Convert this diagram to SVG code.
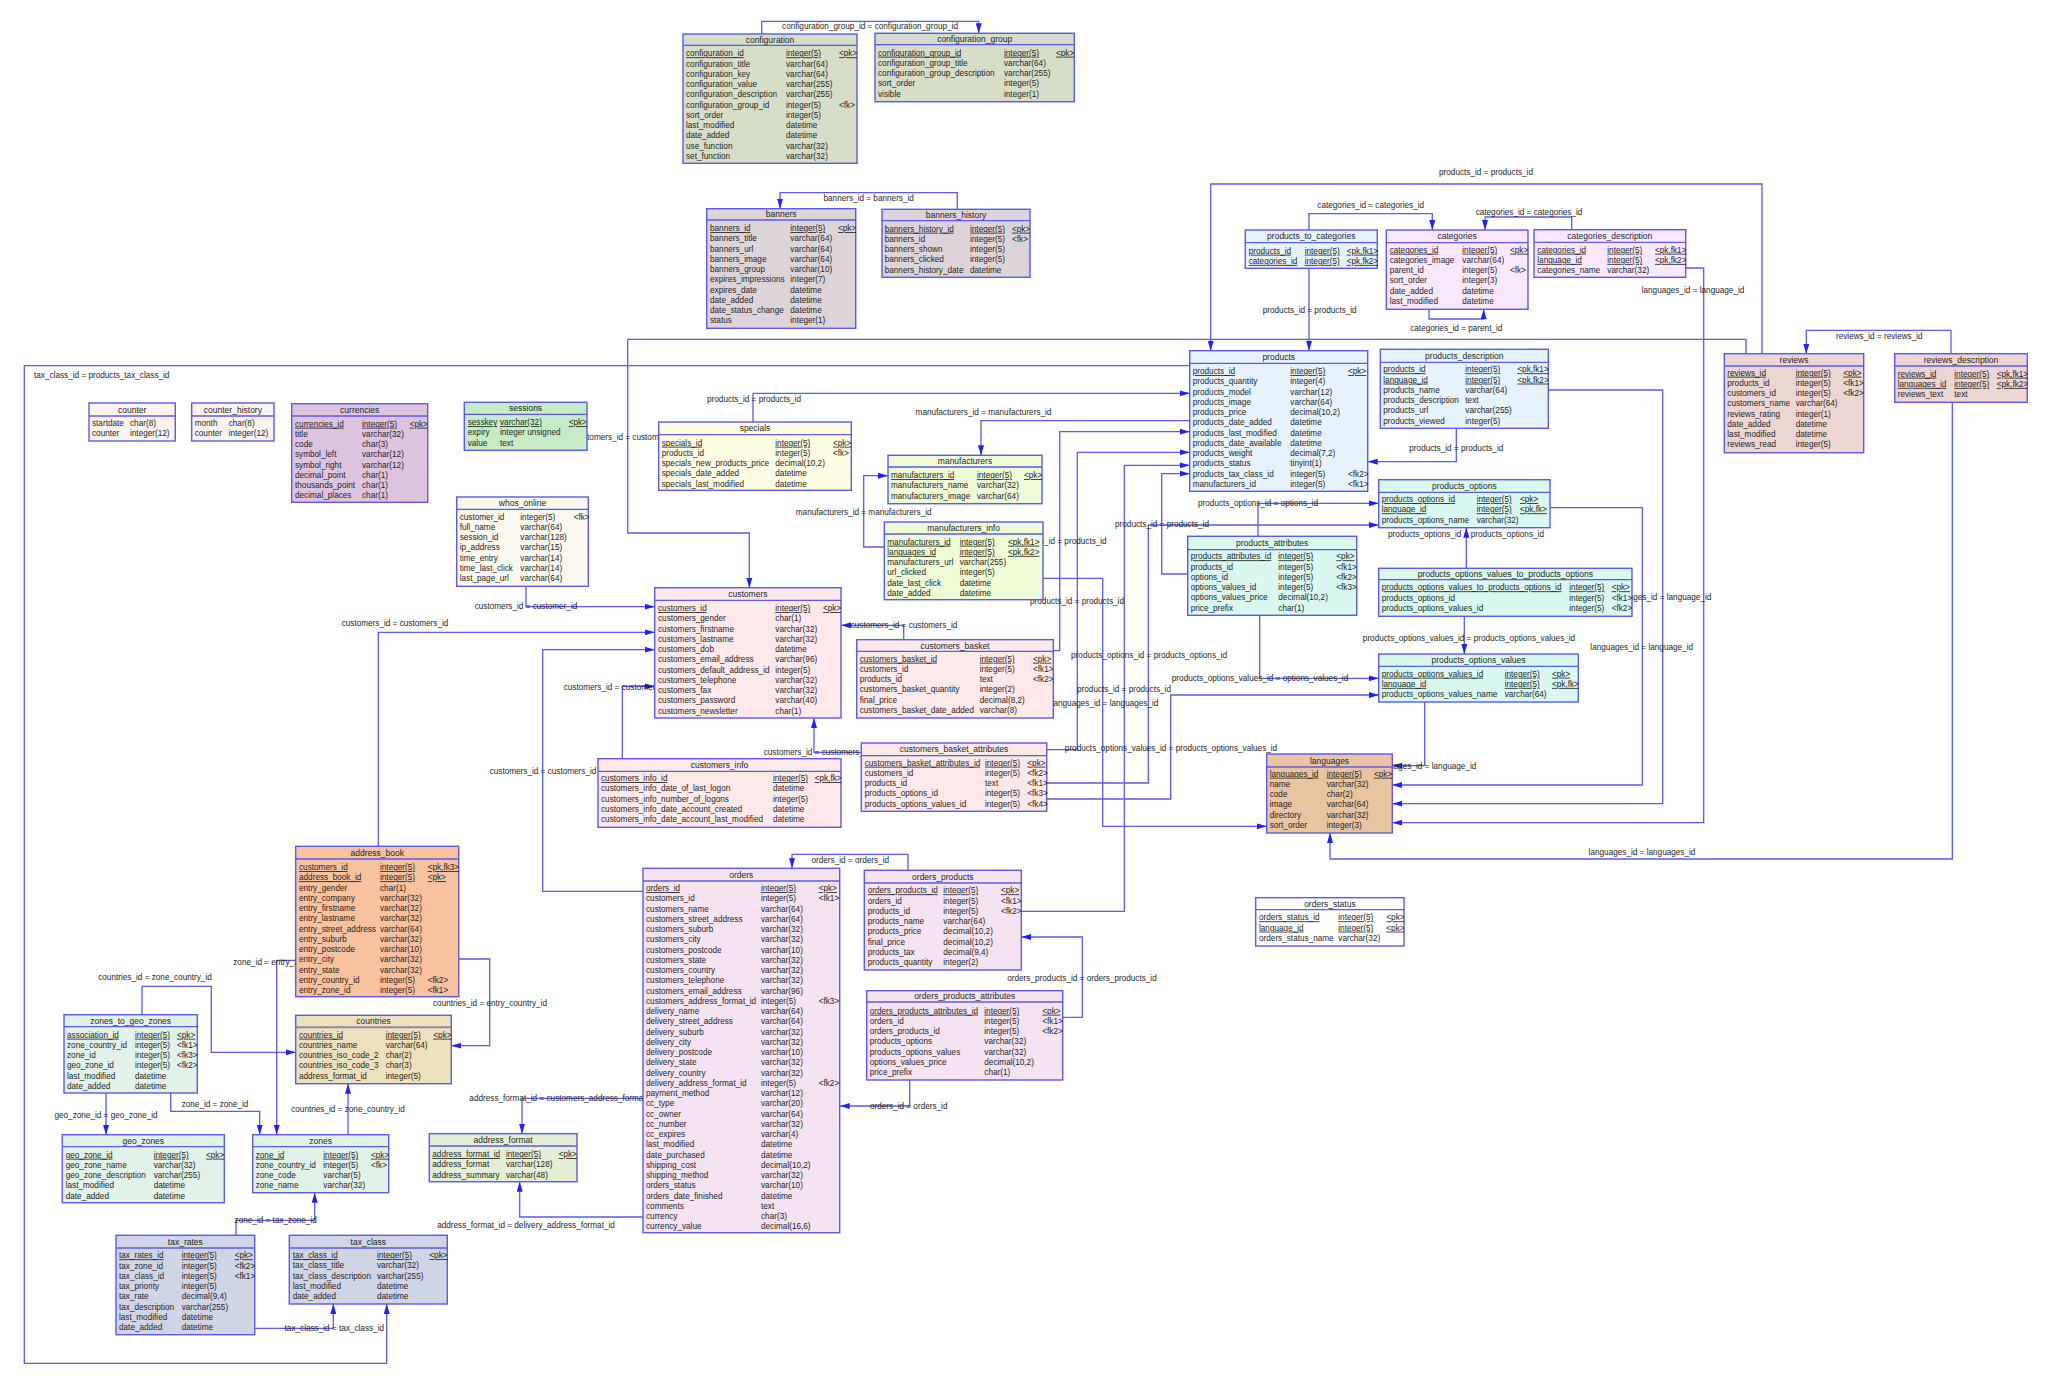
<svg xmlns="http://www.w3.org/2000/svg" width="2048" height="1389" viewBox="0 0 2048 1389">
<defs>
<marker id="a" viewBox="0 0 10 6" refX="10" refY="3" markerWidth="10" markerHeight="6" orient="auto" markerUnits="userSpaceOnUse"><path d="M0,0L10,3L0,6z" fill="#1f1fff"/></marker>
<style>
text{font-family:"Liberation Sans",Arial,sans-serif;font-size:8.2px;fill:#1e1e1e}
.h,.l{text-anchor:middle}
.h{font-size:8.5px}
.u{text-decoration:underline}
.tb{stroke:#5b5be6;stroke-width:1.4}
.hl{stroke:#5b5be6;stroke-width:1.3}
.c path{fill:none;stroke:#5b5be8;stroke-width:1.3;marker-end:url(#a)}
.f1{fill:#d6dec8}.f2{fill:#ddd4d9}.f3{fill:#fbf4ee}.f4{fill:#dcc4df}.f5{fill:#c6ecc6}.f6{fill:#fbf9ef}
.f7{fill:#fdfde3}.f8{fill:#eefbd4}.f9{fill:#e6f3fc}.f10{fill:#f8e8fc}.f11{fill:#ecd6d1}.f12{fill:#d9f8ef}
.f13{fill:#e8c4a0}.f14{fill:#ffffff}.f15{fill:#fde8ea}.f16{fill:#f4e4f1}.f17{fill:#f8c29f}.f18{fill:#ece1bb}
.f19{fill:#e1f2e9}.f20{fill:#e4efd5}.f21{fill:#d0d5e6}
</style>
</defs>
<rect width="2048" height="1389" fill="#ffffff"/>

<g id="connectors" class="c">
<path d="M761.7,34V21.3H978.7V33.3"/>
<path d="M957.3,209.3V192.7H780V208.7"/>
<path d="M1189.7,365.7H24.3V1363.3H386.7V1304"/>
<path d="M753,422V393.3H1189.7"/>
<path d="M1746,353.7V339.3H627.7V533H749.3V587.7"/>
<path d="M1762,353.7V184H1210.7V350.7"/>
<path d="M1309,230V213.7H1432.3V230"/>
<path d="M1309,268.3V350.7"/>
<path d="M1429,309.3V319H1483.7V309.3"/>
<path d="M1571.7,229.7V217H1485V230"/>
<path d="M1685.7,268H1703.7V822.7H1392.3"/>
<path d="M1548.3,390H1662.7V803.7H1392.3"/>
<path d="M1550,507.7H1642.3V785H1392.3"/>
<path d="M1424.7,702V765.7H1392.3"/>
<path d="M1952.3,402.3V859H1330V833"/>
<path d="M1951,353.7V330.3H1806.3V353.7"/>
<path d="M1456.3,428.3V461.7H1367.7"/>
<path d="M1189.7,420.7H981V455.3"/>
<path d="M884.3,547H863.7V475.7H888"/>
<path d="M1043,578.3H1102.7V826.3H1266.7"/>
<path d="M1053.3,650.7H1059.7V431.7H1189.7"/>
<path d="M1046.7,749.7H1077.3V452.3H1189.7"/>
<path d="M1021.3,911.3H1124.3V465.3H1189.7"/>
<path d="M1187.7,574H1161.7V473.7H1189.7"/>
<path d="M1258,536.3V503.3H1378.7"/>
<path d="M1046.7,783H1148.3V525H1378.7"/>
<path d="M1046.7,799H1170.7V695H1378.7"/>
<path d="M1259.7,615.3V678.3H1378.7"/>
<path d="M1466.3,568.3V527.7"/>
<path d="M1464.3,616.3V654"/>
<path d="M526,586.3V606.7H654.7"/>
<path d="M378.3,846.3V632.3H654.7"/>
<path d="M643,891.3H542.7V649.7H654.7"/>
<path d="M622.3,758.7V686.3H654.7"/>
<path d="M903.7,639.7V625.3H841"/>
<path d="M861.3,752.3H814V718"/>
<path d="M908,870.3V854.3H792V868.3"/>
<path d="M909.7,1080V1106H839.7"/>
<path d="M1062.7,1017.3H1082.3V937H1021.3"/>
<path d="M458.7,959H489.7V1045.7H451.3"/>
<path d="M295.7,960.3H276.7V1134.7"/>
<path d="M142,1014.7V986.3H211.3V1052.3H295.7"/>
<path d="M106,1093V1134.7"/>
<path d="M170.7,1093V1111.3H259.7V1134.7"/>
<path d="M348,1134.7V1083.7"/>
<path d="M236,1235.3V1220.3H314.7V1192.7"/>
<path d="M254.7,1328.3H333.3V1304"/>
<path d="M643,1098.3H522V1133.7"/>
<path d="M643,1217H519.7V1181.7"/>
</g>

<g id="labels">
<text class="l" x="870" y="29">configuration_group_id = configuration_group_id</text>
<text class="l" x="868.7" y="201">banners_id = banners_id</text>
<text x="34" y="378">tax_class_id = products_tax_class_id</text>
<text class="l" x="754" y="402">products_id = products_id</text>
<text class="l" x="627.7" y="439.7">customers_id = customers_id</text>
<text class="l" x="1486" y="175.3">products_id = products_id</text>
<text class="l" x="1370.7" y="207.7">categories_id = categories_id</text>
<text class="l" x="1309.7" y="313">products_id = products_id</text>
<text class="l" x="1456.3" y="331">categories_id = parent_id</text>
<text class="l" x="1529" y="214.7">categories_id = categories_id</text>
<text class="l" x="1693" y="292.7">languages_id = language_id</text>
<text class="l" x="1660" y="600">languages_id = language_id</text>
<text class="l" x="1641.7" y="649.7">languages_id = language_id</text>
<text class="l" x="1425" y="768.7">languages_id = language_id</text>
<text class="l" x="1642" y="855">languages_id = languages_id</text>
<text class="l" x="1879.3" y="339">reviews_id = reviews_id</text>
<text class="l" x="1456.3" y="451.3">products_id = products_id</text>
<text class="l" x="983.5" y="414.7">manufacturers_id = manufacturers_id</text>
<text class="l" x="863.7" y="514.7">manufacturers_id = manufacturers_id</text>
<text class="l" x="1105" y="705.7">languages_id = languages_id</text>
<text class="l" x="1059.7" y="544">products_id = products_id</text>
<text class="l" x="1077" y="603.7">products_id = products_id</text>
<text class="l" x="1124" y="692">products_id = products_id</text>
<text class="l" x="1162" y="527">products_id = products_id</text>
<text class="l" x="1258" y="506.3">products_options_id = options_id</text>
<text class="l" x="1149" y="657.7">products_options_id = products_options_id</text>
<text class="l" x="1171" y="751">products_options_values_id = products_options_values_id</text>
<text class="l" x="1260" y="681.3">products_options_values_id = options_values_id</text>
<text class="l" x="1466" y="536.7">products_options_id = products_options_id</text>
<text class="l" x="1469" y="640.7">products_options_values_id = products_options_values_id</text>
<text class="l" x="526" y="609.3">customers_id = customer_id</text>
<text class="l" x="395" y="626">customers_id = customers_id</text>
<text class="l" x="543" y="774.3">customers_id = customers_id</text>
<text class="l" x="617" y="690">customers_id = customers_id</text>
<text class="l" x="904" y="628.3">customers_id = customers_id</text>
<text class="l" x="817" y="755.3">customers_id = customers_id</text>
<text class="l" x="850.3" y="862.7">orders_id = orders_id</text>
<text class="l" x="908.7" y="1109">orders_id = orders_id</text>
<text class="l" x="1082" y="981">orders_products_id = orders_products_id</text>
<text class="l" x="490" y="1005.7">countries_id = entry_country_id</text>
<text class="l" x="278" y="964.7">zone_id = entry_zone_id</text>
<text class="l" x="155" y="980">countries_id = zone_country_id</text>
<text class="l" x="106" y="1117.7">geo_zone_id = geo_zone_id</text>
<text class="l" x="215" y="1107">zone_id = zone_id</text>
<text class="l" x="348" y="1112.3">countries_id = zone_country_id</text>
<text class="l" x="275.7" y="1223.3">zone_id = tax_zone_id</text>
<text class="l" x="334.3" y="1331.3">tax_class_id = tax_class_id</text>
<text class="l" x="563" y="1101">address_format_id = customers_address_format_id</text>
<text class="l" x="526" y="1228">address_format_id = delivery_address_format_id</text>
</g>

<g id="t-configuration">
<rect class="f1 tb" x="683" y="34" width="174" height="129.3"/><line class="hl" x1="683" y1="45.3" x2="857" y2="45.3"/>
<text class="h" x="770" y="42.6">configuration</text>
<text class="u" x="686" y="56.3">configuration_id</text>
<text x="686"><tspan x="686" y="66.6">configuration_title</tspan><tspan x="686" y="76.8">configuration_key</tspan><tspan x="686" y="87.1">configuration_value</tspan><tspan x="686" y="97.3">configuration_description</tspan><tspan x="686" y="107.6">configuration_group_id</tspan><tspan x="686" y="117.8">sort_order</tspan><tspan x="686" y="128.1">last_modified</tspan><tspan x="686" y="138.3">date_added</tspan><tspan x="686" y="148.6">use_function</tspan><tspan x="686" y="158.8">set_function</tspan></text>
<text class="u" x="786" y="56.3">integer(5)</text>
<text><tspan x="786" y="66.6">varchar(64)</tspan><tspan x="786" y="76.8">varchar(64)</tspan><tspan x="786" y="87.1">varchar(255)</tspan><tspan x="786" y="97.3">varchar(255)</tspan><tspan x="786" y="107.6">integer(5)</tspan><tspan x="786" y="117.8">integer(5)</tspan><tspan x="786" y="128.1">datetime</tspan><tspan x="786" y="138.3">datetime</tspan><tspan x="786" y="148.6">varchar(32)</tspan><tspan x="786" y="158.8">varchar(32)</tspan></text>
<text class="u" x="839" y="56.3">&lt;pk&gt;</text><text x="839" y="107.6">&lt;fk&gt;</text>
</g>

<g id="t-configuration_group">
<rect class="f1 tb" x="875" y="33.3" width="199.3" height="68.4"/><line class="hl" x1="875" y1="44.7" x2="1074.3" y2="44.7"/>
<text class="h" x="974.7" y="42">configuration_group</text>
<text class="u" x="878" y="55.7">configuration_group_id</text>
<text><tspan x="878" y="65.9">configuration_group_title</tspan><tspan x="878" y="76.2">configuration_group_description</tspan><tspan x="878" y="86.4">sort_order</tspan><tspan x="878" y="96.7">visible</tspan></text>
<text class="u" x="1004" y="55.7">integer(5)</text>
<text><tspan x="1004" y="65.9">varchar(64)</tspan><tspan x="1004" y="76.2">varchar(255)</tspan><tspan x="1004" y="86.4">integer(5)</tspan><tspan x="1004" y="96.7">integer(1)</tspan></text>
<text class="u" x="1056" y="55.7">&lt;pk&gt;</text>
</g>

<g id="t-banners">
<rect class="f2 tb" x="706.7" y="208.7" width="149" height="119.6"/><line class="hl" x1="706.7" y1="220" x2="855.7" y2="220"/>
<text class="h" x="781.2" y="217.4">banners</text>
<text class="u" x="710" y="231">banners_id</text>
<text><tspan x="710" y="241.3">banners_title</tspan><tspan x="710" y="251.5">banners_url</tspan><tspan x="710" y="261.8">banners_image</tspan><tspan x="710" y="272">banners_group</tspan><tspan x="710" y="282.3">expires_impressions</tspan><tspan x="710" y="292.5">expires_date</tspan><tspan x="710" y="302.8">date_added</tspan><tspan x="710" y="313">date_status_change</tspan><tspan x="710" y="323.3">status</tspan></text>
<text class="u" x="790.3" y="231">integer(5)</text>
<text><tspan x="790.3" y="241.3">varchar(64)</tspan><tspan x="790.3" y="251.5">varchar(64)</tspan><tspan x="790.3" y="261.8">varchar(64)</tspan><tspan x="790.3" y="272">varchar(10)</tspan><tspan x="790.3" y="282.3">integer(7)</tspan><tspan x="790.3" y="292.5">datetime</tspan><tspan x="790.3" y="302.8">datetime</tspan><tspan x="790.3" y="313">datetime</tspan><tspan x="790.3" y="323.3">integer(1)</tspan></text>
<text class="u" x="838" y="231">&lt;pk&gt;</text>
</g>

<g id="t-banners_history">
<rect class="f2 tb" x="882" y="209.3" width="148" height="68"/><line class="hl" x1="882" y1="220.7" x2="1030" y2="220.7"/>
<text class="h" x="956" y="218">banners_history</text>
<text class="u" x="884.7" y="231.7">banners_history_id</text>
<text><tspan x="884.7" y="241.9">banners_id</tspan><tspan x="884.7" y="252.2">banners_shown</tspan><tspan x="884.7" y="262.4">banners_clicked</tspan><tspan x="884.7" y="272.7">banners_history_date</tspan></text>
<text class="u" x="970" y="231.7">integer(5)</text>
<text><tspan x="970" y="241.9">integer(5)</tspan><tspan x="970" y="252.2">integer(5)</tspan><tspan x="970" y="262.4">integer(5)</tspan><tspan x="970" y="272.7">datetime</tspan></text>
<text class="u" x="1012" y="231.7">&lt;pk&gt;</text><text x="1012" y="241.9">&lt;fk&gt;</text>
</g>

<g id="t-counter">
<rect class="f3 tb" x="89" y="403" width="86.3" height="38"/><line class="hl" x1="89" y1="416" x2="175.3" y2="416"/>
<text class="h" x="132.2" y="412.5">counter</text>
<text><tspan x="92" y="425.7">startdate</tspan><tspan x="92" y="436">counter</tspan></text>
<text><tspan x="130" y="425.7">char(8)</tspan><tspan x="130" y="436">integer(12)</tspan></text>
</g>

<g id="t-counter_history">
<rect class="f3 tb" x="191.7" y="403" width="82.3" height="38"/><line class="hl" x1="191.7" y1="416" x2="274" y2="416"/>
<text class="h" x="232.9" y="412.5">counter_history</text>
<text><tspan x="194.7" y="425.7">month</tspan><tspan x="194.7" y="436">counter</tspan></text>
<text><tspan x="228.7" y="425.7">char(8)</tspan><tspan x="228.7" y="436">integer(12)</tspan></text>
</g>

<g id="t-currencies">
<rect class="f4 tb" x="291.7" y="403.7" width="136" height="98.6"/><line class="hl" x1="291.7" y1="416" x2="427.7" y2="416"/>
<text class="h" x="359.7" y="412.9">currencies</text>
<text class="u" x="295" y="426.7">currencies_id</text>
<text><tspan x="295" y="436.9">title</tspan><tspan x="295" y="447.2">code</tspan><tspan x="295" y="457.4">symbol_left</tspan><tspan x="295" y="467.7">symbol_right</tspan><tspan x="295" y="477.9">decimal_point</tspan><tspan x="295" y="488.2">thousands_point</tspan><tspan x="295" y="498.4">decimal_places</tspan></text>
<text class="u" x="362" y="426.7">integer(5)</text>
<text><tspan x="362" y="436.9">varchar(32)</tspan><tspan x="362" y="447.2">char(3)</tspan><tspan x="362" y="457.4">varchar(12)</tspan><tspan x="362" y="467.7">varchar(12)</tspan><tspan x="362" y="477.9">char(1)</tspan><tspan x="362" y="488.2">char(1)</tspan><tspan x="362" y="498.4">char(1)</tspan></text>
<text class="u" x="409.7" y="426.7">&lt;pk&gt;</text>
</g>

<g id="t-sessions">
<rect class="f5 tb" x="464.3" y="402.3" width="122.7" height="48"/><line class="hl" x1="464.3" y1="414.3" x2="587" y2="414.3"/>
<text class="h" x="525.6" y="411.3">sessions</text>
<text class="u" x="467.7" y="425">sesskey</text>
<text><tspan x="467.7" y="435.3">expiry</tspan><tspan x="467.7" y="445.5">value</tspan></text>
<text class="u" x="500" y="425">varchar(32)</text>
<text><tspan x="500" y="435.3">integer unsigned</tspan><tspan x="500" y="445.5">text</tspan></text>
<text class="u" x="568.7" y="425">&lt;pk&gt;</text>
</g>

<g id="t-whos_online">
<rect class="f6 tb" x="456.7" y="497" width="131.6" height="89.3"/><line class="hl" x1="456.7" y1="509.3" x2="588.3" y2="509.3"/>
<text class="h" x="522.5" y="506.2">whos_online</text>
<text><tspan x="459.7" y="519.7">customer_id</tspan><tspan x="459.7" y="529.9">full_name</tspan><tspan x="459.7" y="540.2">session_id</tspan><tspan x="459.7" y="550.4">ip_address</tspan><tspan x="459.7" y="560.7">time_entry</tspan><tspan x="459.7" y="570.9">time_last_click</tspan><tspan x="459.7" y="581.2">last_page_url</tspan></text>
<text><tspan x="520.3" y="519.7">integer(5)</tspan><tspan x="520.3" y="529.9">varchar(64)</tspan><tspan x="520.3" y="540.2">varchar(128)</tspan><tspan x="520.3" y="550.4">varchar(15)</tspan><tspan x="520.3" y="560.7">varchar(14)</tspan><tspan x="520.3" y="570.9">varchar(14)</tspan><tspan x="520.3" y="581.2">varchar(64)</tspan></text>
<text x="573.7" y="519.7">&lt;fk&gt;</text>
</g>

<g id="t-specials">
<rect class="f7 tb" x="658.7" y="422" width="192.6" height="68.3"/><line class="hl" x1="658.7" y1="434.7" x2="851.3" y2="434.7"/>
<text class="h" x="755" y="431.3">specials</text>
<text class="u" x="661.7" y="445.7">specials_id</text>
<text><tspan x="661.7" y="455.9">products_id</tspan><tspan x="661.7" y="466.2">specials_new_products_price</tspan><tspan x="661.7" y="476.4">specials_date_added</tspan><tspan x="661.7" y="486.7">specials_last_modified</tspan></text>
<text class="u" x="775.3" y="445.7">integer(5)</text>
<text><tspan x="775.3" y="455.9">integer(5)</tspan><tspan x="775.3" y="466.2">decimal(10,2)</tspan><tspan x="775.3" y="476.4">datetime</tspan><tspan x="775.3" y="486.7">datetime</tspan></text>
<text class="u" x="833" y="445.7">&lt;pk&gt;</text><text x="833" y="455.9">&lt;fk&gt;</text>
</g>

<g id="t-manufacturers">
<rect class="f8 tb" x="888" y="455.3" width="154" height="48.4"/><line class="hl" x1="888" y1="467" x2="1042" y2="467"/>
<text class="h" x="965" y="464">manufacturers</text>
<text class="u" x="891" y="478">manufacturers_id</text>
<text><tspan x="891" y="488.3">manufacturers_name</tspan><tspan x="891" y="498.5">manufacturers_image</tspan></text>
<text class="u" x="977" y="478">integer(5)</text>
<text><tspan x="977" y="488.3">varchar(32)</tspan><tspan x="977" y="498.5">varchar(64)</tspan></text>
<text class="u" x="1024" y="478">&lt;pk&gt;</text>
</g>

<g id="t-manufacturers_info">
<rect class="f8 tb" x="884.3" y="522" width="158.7" height="77.7"/><line class="hl" x1="884.3" y1="534" x2="1043" y2="534"/>
<text class="h" x="963.6" y="531">manufacturers_info</text>
<text class="u" x="887.3" y="544.7">manufacturers_id</text><text class="u" x="887.3" y="554.9">languages_id</text>
<text><tspan x="887.3" y="565.2">manufacturers_url</tspan><tspan x="887.3" y="575.4">url_clicked</tspan><tspan x="887.3" y="585.7">date_last_click</tspan><tspan x="887.3" y="595.9">date_added</tspan></text>
<text class="u" x="959.7" y="544.7">integer(5)</text><text class="u" x="959.7" y="554.9">integer(5)</text>
<text><tspan x="959.7" y="565.2">varchar(255)</tspan><tspan x="959.7" y="575.4">integer(5)</tspan><tspan x="959.7" y="585.7">datetime</tspan><tspan x="959.7" y="595.9">datetime</tspan></text>
<text class="u" x="1008" y="544.7">&lt;pk,fk1&gt;</text><text class="u" x="1008" y="554.9">&lt;pk,fk2&gt;</text>
</g>

<g id="t-products_to_categories">
<rect class="f9 tb" x="1245.3" y="230" width="132" height="38.3"/><line class="hl" x1="1245.3" y1="242.7" x2="1377.3" y2="242.7"/>
<text class="h" x="1311.3" y="239.3">products_to_categories</text>
<text class="u" x="1248.7" y="253.7">products_id</text><text class="u" x="1248.7" y="263.9">categories_id</text>
<text class="u" x="1304.7" y="253.7">integer(5)</text><text class="u" x="1304.7" y="263.9">integer(5)</text>
<text class="u" x="1346.7" y="253.7">&lt;pk,fk1&gt;</text><text class="u" x="1346.7" y="263.9">&lt;pk,fk2&gt;</text>
</g>

<g id="t-categories">
<rect class="f10 tb" x="1386.3" y="230" width="141.7" height="79.3"/><line class="hl" x1="1386.3" y1="242.7" x2="1528" y2="242.7"/>
<text class="h" x="1457.1" y="239.3">categories</text>
<text class="u" x="1389.7" y="252.7">categories_id</text>
<text><tspan x="1389.7" y="262.9">categories_image</tspan><tspan x="1389.7" y="273.2">parent_id</tspan><tspan x="1389.7" y="283.4">sort_order</tspan><tspan x="1389.7" y="293.7">date_added</tspan><tspan x="1389.7" y="303.9">last_modified</tspan></text>
<text class="u" x="1462.3" y="252.7">integer(5)</text>
<text><tspan x="1462.3" y="262.9">varchar(64)</tspan><tspan x="1462.3" y="273.2">integer(5)</tspan><tspan x="1462.3" y="283.4">integer(3)</tspan><tspan x="1462.3" y="293.7">datetime</tspan><tspan x="1462.3" y="303.9">datetime</tspan></text>
<text class="u" x="1510" y="252.7">&lt;pk&gt;</text><text x="1510" y="273.2">&lt;fk&gt;</text>
</g>

<g id="t-categories_description">
<rect class="f10 tb" x="1534" y="229.7" width="151.7" height="47.6"/><line class="hl" x1="1534" y1="242.3" x2="1685.7" y2="242.3"/>
<text class="h" x="1609.8" y="239">categories_description</text>
<text class="u" x="1537.3" y="252.7">categories_id</text><text class="u" x="1537.3" y="262.9">language_id</text><text x="1537.3" y="273.2">categories_name</text>
<text class="u" x="1607.3" y="252.7">integer(5)</text><text class="u" x="1607.3" y="262.9">integer(5)</text><text x="1607.3" y="273.2">varchar(32)</text>
<text class="u" x="1655" y="252.7">&lt;pk,fk1&gt;</text><text class="u" x="1655" y="262.9">&lt;pk,fk2&gt;</text>
</g>

<g id="t-products">
<rect class="f9 tb" x="1189.7" y="350.7" width="178" height="140.6"/><line class="hl" x1="1189.7" y1="363.3" x2="1367.7" y2="363.3"/>
<text class="h" x="1278.7" y="360">products</text>
<text class="u" x="1192.7" y="374">products_id</text>
<text><tspan x="1192.7" y="384.3">products_quantity</tspan><tspan x="1192.7" y="394.5">products_model</tspan><tspan x="1192.7" y="404.8">products_image</tspan><tspan x="1192.7" y="415">products_price</tspan><tspan x="1192.7" y="425.3">products_date_added</tspan><tspan x="1192.7" y="435.5">products_last_modified</tspan><tspan x="1192.7" y="445.8">products_date_available</tspan><tspan x="1192.7" y="456">products_weight</tspan><tspan x="1192.7" y="466.3">products_status</tspan><tspan x="1192.7" y="476.5">products_tax_class_id</tspan><tspan x="1192.7" y="486.8">manufacturers_id</tspan></text>
<text class="u" x="1290.3" y="374">integer(5)</text>
<text><tspan x="1290.3" y="384.3">integer(4)</tspan><tspan x="1290.3" y="394.5">varchar(12)</tspan><tspan x="1290.3" y="404.8">varchar(64)</tspan><tspan x="1290.3" y="415">decimal(10,2)</tspan><tspan x="1290.3" y="425.3">datetime</tspan><tspan x="1290.3" y="435.5">datetime</tspan><tspan x="1290.3" y="445.8">datetime</tspan><tspan x="1290.3" y="456">decimal(7,2)</tspan><tspan x="1290.3" y="466.3">tinyint(1)</tspan><tspan x="1290.3" y="476.5">integer(5)</tspan><tspan x="1290.3" y="486.8">integer(5)</tspan></text>
<text class="u" x="1348" y="374">&lt;pk&gt;</text><text x="1348" y="476.5">&lt;fk2&gt;</text><text x="1348" y="486.8">&lt;fk1&gt;</text>
</g>

<g id="t-products_description">
<rect class="f9 tb" x="1380.3" y="349.3" width="168" height="79"/><line class="hl" x1="1380.3" y1="362.3" x2="1548.3" y2="362.3"/>
<text class="h" x="1464.3" y="358.8">products_description</text>
<text class="u" x="1383.3" y="372.3">products_id</text><text class="u" x="1383.3" y="382.6">language_id</text>
<text><tspan x="1383.3" y="392.8">products_name</tspan><tspan x="1383.3" y="403.1">products_description</tspan><tspan x="1383.3" y="413.3">products_url</tspan><tspan x="1383.3" y="423.6">products_viewed</tspan></text>
<text class="u" x="1465.3" y="372.3">integer(5)</text><text class="u" x="1465.3" y="382.6">integer(5)</text>
<text><tspan x="1465.3" y="392.8">varchar(64)</tspan><tspan x="1465.3" y="403.1">text</tspan><tspan x="1465.3" y="413.3">varchar(255)</tspan><tspan x="1465.3" y="423.6">integer(5)</tspan></text>
<text class="u" x="1517.3" y="372.3">&lt;pk,fk1&gt;</text><text class="u" x="1517.3" y="382.6">&lt;pk,fk2&gt;</text>
</g>

<g id="t-reviews">
<rect class="f11 tb" x="1724.3" y="353.7" width="139.4" height="99"/><line class="hl" x1="1724.3" y1="366" x2="1863.7" y2="366"/>
<text class="h" x="1794" y="363">reviews</text>
<text class="u" x="1727.3" y="375.7">reviews_id</text>
<text><tspan x="1727.3" y="385.9">products_id</tspan><tspan x="1727.3" y="396.2">customers_id</tspan><tspan x="1727.3" y="406.4">customers_name</tspan><tspan x="1727.3" y="416.7">reviews_rating</tspan><tspan x="1727.3" y="426.9">date_added</tspan><tspan x="1727.3" y="437.2">last_modified</tspan><tspan x="1727.3" y="447.4">reviews_read</tspan></text>
<text class="u" x="1795.7" y="375.7">integer(5)</text>
<text><tspan x="1795.7" y="385.9">integer(5)</tspan><tspan x="1795.7" y="396.2">integer(5)</tspan><tspan x="1795.7" y="406.4">varchar(64)</tspan><tspan x="1795.7" y="416.7">integer(1)</tspan><tspan x="1795.7" y="426.9">datetime</tspan><tspan x="1795.7" y="437.2">datetime</tspan><tspan x="1795.7" y="447.4">integer(5)</tspan></text>
<text class="u" x="1843.3" y="375.7">&lt;pk&gt;</text><text x="1843.3" y="385.9">&lt;fk1&gt;</text><text x="1843.3" y="396.2">&lt;fk2&gt;</text>
</g>

<g id="t-reviews_description">
<rect class="f11 tb" x="1894.7" y="353.7" width="132.6" height="48.6"/><line class="hl" x1="1894.7" y1="366" x2="2027.3" y2="366"/>
<text class="h" x="1961" y="363">reviews_description</text>
<text class="u" x="1897.7" y="376.7">reviews_id</text><text class="u" x="1897.7" y="386.9">languages_id</text><text x="1897.7" y="397.2">reviews_text</text>
<text class="u" x="1954.3" y="376.7">integer(5)</text><text class="u" x="1954.3" y="386.9">integer(5)</text><text x="1954.3" y="397.2">text</text>
<text class="u" x="1996.7" y="376.7">&lt;pk,fk1&gt;</text><text class="u" x="1996.7" y="386.9">&lt;pk,fk2&gt;</text>
</g>

<g id="t-products_options">
<rect class="f12 tb" x="1378.7" y="479.7" width="171.3" height="48"/><line class="hl" x1="1378.7" y1="492.3" x2="1550" y2="492.3"/>
<text class="h" x="1464.3" y="489">products_options</text>
<text class="u" x="1381.7" y="502">products_options_id</text><text class="u" x="1381.7" y="512.3">language_id</text><text x="1381.7" y="522.5">products_options_name</text>
<text class="u" x="1476.7" y="502">integer(5)</text><text class="u" x="1476.7" y="512.3">integer(5)</text><text x="1476.7" y="522.5">varchar(32)</text>
<text class="u" x="1520" y="502">&lt;pk&gt;</text><text class="u" x="1520" y="512.3">&lt;pk,fk&gt;</text>
</g>

<g id="t-products_attributes">
<rect class="f12 tb" x="1187.7" y="536.3" width="169" height="79"/><line class="hl" x1="1187.7" y1="549.7" x2="1356.7" y2="549.7"/>
<text class="h" x="1272.2" y="546">products_attributes</text>
<text class="u" x="1190.7" y="559.3">products_attributes_id</text>
<text><tspan x="1190.7" y="569.6">products_id</tspan><tspan x="1190.7" y="579.8">options_id</tspan><tspan x="1190.7" y="590.1">options_values_id</tspan><tspan x="1190.7" y="600.3">options_values_price</tspan><tspan x="1190.7" y="610.6">price_prefix</tspan></text>
<text class="u" x="1278.3" y="559.3">integer(5)</text>
<text><tspan x="1278.3" y="569.6">integer(5)</tspan><tspan x="1278.3" y="579.8">integer(5)</tspan><tspan x="1278.3" y="590.1">integer(5)</tspan><tspan x="1278.3" y="600.3">decimal(10,2)</tspan><tspan x="1278.3" y="610.6">char(1)</tspan></text>
<text class="u" x="1336.3" y="559.3">&lt;pk&gt;</text><text><tspan x="1336.3" y="569.6">&lt;fk1&gt;</tspan><tspan x="1336.3" y="579.8">&lt;fk2&gt;</tspan><tspan x="1336.3" y="590.1">&lt;fk3&gt;</tspan></text>
</g>

<g id="t-products_options_values_to_products_options">
<rect class="f12 tb" x="1378.7" y="568.3" width="253.3" height="48"/><line class="hl" x1="1378.7" y1="579.7" x2="1632" y2="579.7"/>
<text class="h" x="1505.3" y="577">products_options_values_to_products_options</text>
<text class="u" x="1381.7" y="590.3">products_options_values_to_products_options_id</text><text x="1381.7" y="600.6">products_options_id</text><text x="1381.7" y="610.8">products_options_values_id</text>
<text class="u" x="1569.3" y="590.3">integer(5)</text><text x="1569.3" y="600.6">integer(5)</text><text x="1569.3" y="610.8">integer(5)</text>
<text class="u" x="1611.7" y="590.3">&lt;pk&gt;</text><text x="1611.7" y="600.6">&lt;fk1&gt;</text><text x="1611.7" y="610.8">&lt;fk2&gt;</text>
</g>

<g id="t-products_options_values">
<rect class="f12 tb" x="1378.7" y="654" width="199.6" height="48"/><line class="hl" x1="1378.7" y1="666.3" x2="1578.3" y2="666.3"/>
<text class="h" x="1478.5" y="663.2">products_options_values</text>
<text class="u" x="1381.7" y="676.7">products_options_values_id</text><text class="u" x="1381.7" y="686.9">language_id</text><text x="1381.7" y="697.2">products_options_values_name</text>
<text class="u" x="1504.7" y="676.7">integer(5)</text><text class="u" x="1504.7" y="686.9">integer(5)</text><text x="1504.7" y="697.2">varchar(64)</text>
<text class="u" x="1552" y="676.7">&lt;pk&gt;</text><text class="u" x="1552" y="686.9">&lt;pk,fk&gt;</text>
</g>

<g id="t-languages">
<rect class="f13 tb" x="1266.7" y="754" width="125.6" height="79"/><line class="hl" x1="1266.7" y1="767" x2="1392.3" y2="767"/>
<text class="h" x="1329.5" y="763.5">languages</text>
<text class="u" x="1269.7" y="776.7">languages_id</text>
<text><tspan x="1269.7" y="786.9">name</tspan><tspan x="1269.7" y="797.2">code</tspan><tspan x="1269.7" y="807.4">image</tspan><tspan x="1269.7" y="817.7">directory</tspan><tspan x="1269.7" y="827.9">sort_order</tspan></text>
<text class="u" x="1326.7" y="776.7">integer(5)</text>
<text><tspan x="1326.7" y="786.9">varchar(32)</tspan><tspan x="1326.7" y="797.2">char(2)</tspan><tspan x="1326.7" y="807.4">varchar(64)</tspan><tspan x="1326.7" y="817.7">varchar(32)</tspan><tspan x="1326.7" y="827.9">integer(3)</tspan></text>
<text class="u" x="1374" y="776.7">&lt;pk&gt;</text>
</g>

<g id="t-orders_status">
<rect class="f14 tb" x="1255.7" y="897.7" width="148.3" height="48.3"/><line class="hl" x1="1255.7" y1="909.7" x2="1404" y2="909.7"/>
<text class="h" x="1329.9" y="906.7">orders_status</text>
<text class="u" x="1259" y="920.3">orders_status_id</text><text class="u" x="1259" y="930.6">language_id</text><text x="1259" y="940.8">orders_status_name</text>
<text class="u" x="1338.3" y="920.3">integer(5)</text><text class="u" x="1338.3" y="930.6">integer(5)</text><text x="1338.3" y="940.8">varchar(32)</text>
<text class="u" x="1386.3" y="920.3">&lt;pk&gt;</text><text class="u" x="1386.3" y="930.6">&lt;pk&gt;</text>
</g>

<g id="t-customers">
<rect class="f15 tb" x="654.7" y="587.7" width="186.3" height="130.3"/><line class="hl" x1="654.7" y1="600.3" x2="841" y2="600.3"/>
<text class="h" x="747.9" y="597">customers</text>
<text class="u" x="658" y="611">customers_id</text>
<text><tspan x="658" y="621.3">customers_gender</tspan><tspan x="658" y="631.5">customers_firstname</tspan><tspan x="658" y="641.8">customers_lastname</tspan><tspan x="658" y="652">customers_dob</tspan><tspan x="658" y="662.3">customers_email_address</tspan><tspan x="658" y="672.5">customers_default_address_id</tspan><tspan x="658" y="682.8">customers_telephone</tspan><tspan x="658" y="693">customers_fax</tspan><tspan x="658" y="703.3">customers_password</tspan><tspan x="658" y="713.5">customers_newsletter</tspan></text>
<text class="u" x="775.3" y="611">integer(5)</text>
<text><tspan x="775.3" y="621.3">char(1)</tspan><tspan x="775.3" y="631.5">varchar(32)</tspan><tspan x="775.3" y="641.8">varchar(32)</tspan><tspan x="775.3" y="652">datetime</tspan><tspan x="775.3" y="662.3">varchar(96)</tspan><tspan x="775.3" y="672.5">integer(5)</tspan><tspan x="775.3" y="682.8">varchar(32)</tspan><tspan x="775.3" y="693">varchar(32)</tspan><tspan x="775.3" y="703.3">varchar(40)</tspan><tspan x="775.3" y="713.5">char(1)</tspan></text>
<text class="u" x="823" y="611">&lt;pk&gt;</text>
</g>

<g id="t-customers_basket">
<rect class="f15 tb" x="856.7" y="639.7" width="196.6" height="78.3"/><line class="hl" x1="856.7" y1="651.3" x2="1053.3" y2="651.3"/>
<text class="h" x="955" y="648.5">customers_basket</text>
<text class="u" x="859.7" y="661.7">customers_basket_id</text>
<text><tspan x="859.7" y="671.9">customers_id</tspan><tspan x="859.7" y="682.2">products_id</tspan><tspan x="859.7" y="692.4">customers_basket_quantity</tspan><tspan x="859.7" y="702.7">final_price</tspan><tspan x="859.7" y="712.9">customers_basket_date_added</tspan></text>
<text class="u" x="979.7" y="661.7">integer(5)</text>
<text><tspan x="979.7" y="671.9">integer(5)</tspan><tspan x="979.7" y="682.2">text</tspan><tspan x="979.7" y="692.4">integer(2)</tspan><tspan x="979.7" y="702.7">decimal(8,2)</tspan><tspan x="979.7" y="712.9">varchar(8)</tspan></text>
<text class="u" x="1033" y="661.7">&lt;pk&gt;</text><text x="1033" y="671.9">&lt;fk1&gt;</text><text x="1033" y="682.2">&lt;fk2&gt;</text>
</g>

<g id="t-customers_basket_attributes">
<rect class="f15 tb" x="861.3" y="743" width="185.4" height="68.3"/><line class="hl" x1="861.3" y1="755.7" x2="1046.7" y2="755.7"/>
<text class="h" x="954" y="752.4">customers_basket_attributes</text>
<text class="u" x="864.7" y="765.7">customers_basket_attributes_id</text>
<text><tspan x="864.7" y="775.9">customers_id</tspan><tspan x="864.7" y="786.2">products_id</tspan><tspan x="864.7" y="796.4">products_options_id</tspan><tspan x="864.7" y="806.7">products_options_values_id</tspan></text>
<text class="u" x="985" y="765.7">integer(5)</text>
<text><tspan x="985" y="775.9">integer(5)</tspan><tspan x="985" y="786.2">text</tspan><tspan x="985" y="796.4">integer(5)</tspan><tspan x="985" y="806.7">integer(5)</tspan></text>
<text class="u" x="1027.3" y="765.7">&lt;pk&gt;</text><text><tspan x="1027.3" y="775.9">&lt;fk2&gt;</tspan><tspan x="1027.3" y="786.2">&lt;fk1&gt;</tspan><tspan x="1027.3" y="796.4">&lt;fk3&gt;</tspan><tspan x="1027.3" y="806.7">&lt;fk4&gt;</tspan></text>
</g>

<g id="t-customers_info">
<rect class="f15 tb" x="598" y="758.7" width="243" height="68.6"/><line class="hl" x1="598" y1="771.3" x2="841" y2="771.3"/>
<text class="h" x="719.5" y="768">customers_info</text>
<text class="u" x="601" y="781">customers_info_id</text>
<text><tspan x="601" y="791.3">customers_info_date_of_last_logon</tspan><tspan x="601" y="801.5">customers_info_number_of_logons</tspan><tspan x="601" y="811.8">customers_info_date_account_created</tspan><tspan x="601" y="822">customers_info_date_account_last_modified</tspan></text>
<text class="u" x="773" y="781">integer(5)</text>
<text><tspan x="773" y="791.3">datetime</tspan><tspan x="773" y="801.5">integer(5)</tspan><tspan x="773" y="811.8">datetime</tspan><tspan x="773" y="822">datetime</tspan></text>
<text class="u" x="814.7" y="781">&lt;pk,fk&gt;</text>
</g>

<g id="t-orders">
<rect class="f16 tb" x="643" y="868.3" width="196.7" height="364.4"/><line class="hl" x1="643" y1="881" x2="839.7" y2="881"/>
<text class="h" x="741.3" y="877.7">orders</text>
<text class="u" x="646" y="891">orders_id</text>
<text><tspan x="646" y="901.25">customers_id</tspan><tspan x="646" y="911.5">customers_name</tspan><tspan x="646" y="921.75">customers_street_address</tspan><tspan x="646" y="932">customers_suburb</tspan><tspan x="646" y="942.25">customers_city</tspan><tspan x="646" y="952.5">customers_postcode</tspan><tspan x="646" y="962.75">customers_state</tspan><tspan x="646" y="973">customers_country</tspan><tspan x="646" y="983.25">customers_telephone</tspan><tspan x="646" y="993.5">customers_email_address</tspan><tspan x="646" y="1003.75">customers_address_format_id</tspan><tspan x="646" y="1014">delivery_name</tspan><tspan x="646" y="1024.25">delivery_street_address</tspan><tspan x="646" y="1034.5">delivery_suburb</tspan><tspan x="646" y="1044.75">delivery_city</tspan><tspan x="646" y="1055">delivery_postcode</tspan><tspan x="646" y="1065.25">delivery_state</tspan><tspan x="646" y="1075.5">delivery_country</tspan><tspan x="646" y="1085.75">delivery_address_format_id</tspan><tspan x="646" y="1096">payment_method</tspan><tspan x="646" y="1106.25">cc_type</tspan><tspan x="646" y="1116.5">cc_owner</tspan><tspan x="646" y="1126.75">cc_number</tspan><tspan x="646" y="1137">cc_expires</tspan><tspan x="646" y="1147.25">last_modified</tspan><tspan x="646" y="1157.5">date_purchased</tspan><tspan x="646" y="1167.75">shipping_cost</tspan><tspan x="646" y="1178">shipping_method</tspan><tspan x="646" y="1188.25">orders_status</tspan><tspan x="646" y="1198.5">orders_date_finished</tspan><tspan x="646" y="1208.75">comments</tspan><tspan x="646" y="1219">currency</tspan><tspan x="646" y="1229.25">currency_value</tspan></text>
<text class="u" x="761" y="891">integer(5)</text>
<text><tspan x="761" y="901.25">integer(5)</tspan><tspan x="761" y="911.5">varchar(64)</tspan><tspan x="761" y="921.75">varchar(64)</tspan><tspan x="761" y="932">varchar(32)</tspan><tspan x="761" y="942.25">varchar(32)</tspan><tspan x="761" y="952.5">varchar(10)</tspan><tspan x="761" y="962.75">varchar(32)</tspan><tspan x="761" y="973">varchar(32)</tspan><tspan x="761" y="983.25">varchar(32)</tspan><tspan x="761" y="993.5">varchar(96)</tspan><tspan x="761" y="1003.75">integer(5)</tspan><tspan x="761" y="1014">varchar(64)</tspan><tspan x="761" y="1024.25">varchar(64)</tspan><tspan x="761" y="1034.5">varchar(32)</tspan><tspan x="761" y="1044.75">varchar(32)</tspan><tspan x="761" y="1055">varchar(10)</tspan><tspan x="761" y="1065.25">varchar(32)</tspan><tspan x="761" y="1075.5">varchar(32)</tspan><tspan x="761" y="1085.75">integer(5)</tspan><tspan x="761" y="1096">varchar(12)</tspan><tspan x="761" y="1106.25">varchar(20)</tspan><tspan x="761" y="1116.5">varchar(64)</tspan><tspan x="761" y="1126.75">varchar(32)</tspan><tspan x="761" y="1137">varchar(4)</tspan><tspan x="761" y="1147.25">datetime</tspan><tspan x="761" y="1157.5">datetime</tspan><tspan x="761" y="1167.75">decimal(10,2)</tspan><tspan x="761" y="1178">varchar(32)</tspan><tspan x="761" y="1188.25">varchar(10)</tspan><tspan x="761" y="1198.5">datetime</tspan><tspan x="761" y="1208.75">text</tspan><tspan x="761" y="1219">char(3)</tspan><tspan x="761" y="1229.25">decimal(16,6)</tspan></text>
<text class="u" x="818.7" y="891">&lt;pk&gt;</text><text x="818.7" y="901.25">&lt;fk1&gt;</text><text x="818.7" y="1003.75">&lt;fk3&gt;</text><text x="818.7" y="1085.75">&lt;fk2&gt;</text>
</g>

<g id="t-orders_products">
<rect class="f16 tb" x="864.3" y="870.3" width="157" height="99.7"/><line class="hl" x1="864.3" y1="883" x2="1021.3" y2="883"/>
<text class="h" x="942.8" y="879.7">orders_products</text>
<text class="u" x="867.7" y="893.3">orders_products_id</text>
<text><tspan x="867.7" y="903.6">orders_id</tspan><tspan x="867.7" y="913.8">products_id</tspan><tspan x="867.7" y="924.1">products_name</tspan><tspan x="867.7" y="934.3">products_price</tspan><tspan x="867.7" y="944.6">final_price</tspan><tspan x="867.7" y="954.8">products_tax</tspan><tspan x="867.7" y="965.1">products_quantity</tspan></text>
<text class="u" x="943.3" y="893.3">integer(5)</text>
<text><tspan x="943.3" y="903.6">integer(5)</tspan><tspan x="943.3" y="913.8">integer(5)</tspan><tspan x="943.3" y="924.1">varchar(64)</tspan><tspan x="943.3" y="934.3">decimal(10,2)</tspan><tspan x="943.3" y="944.6">decimal(10,2)</tspan><tspan x="943.3" y="954.8">decimal(9,4)</tspan><tspan x="943.3" y="965.1">integer(2)</tspan></text>
<text class="u" x="1001" y="893.3">&lt;pk&gt;</text><text x="1001" y="903.6">&lt;fk1&gt;</text><text x="1001" y="913.8">&lt;fk2&gt;</text>
</g>

<g id="t-orders_products_attributes">
<rect class="f16 tb" x="866.7" y="990.7" width="196" height="89.3"/><line class="hl" x1="866.7" y1="1002" x2="1062.7" y2="1002"/>
<text class="h" x="964.7" y="999.4">orders_products_attributes</text>
<text class="u" x="869.7" y="1013.7">orders_products_attributes_id</text>
<text><tspan x="869.7" y="1023.9">orders_id</tspan><tspan x="869.7" y="1034.2">orders_products_id</tspan><tspan x="869.7" y="1044.4">products_options</tspan><tspan x="869.7" y="1054.7">products_options_values</tspan><tspan x="869.7" y="1064.9">options_values_price</tspan><tspan x="869.7" y="1075.2">price_prefix</tspan></text>
<text class="u" x="984.3" y="1013.7">integer(5)</text>
<text><tspan x="984.3" y="1023.9">integer(5)</tspan><tspan x="984.3" y="1034.2">integer(5)</tspan><tspan x="984.3" y="1044.4">varchar(32)</tspan><tspan x="984.3" y="1054.7">varchar(32)</tspan><tspan x="984.3" y="1064.9">decimal(10,2)</tspan><tspan x="984.3" y="1075.2">char(1)</tspan></text>
<text class="u" x="1042.3" y="1013.7">&lt;pk&gt;</text><text x="1042.3" y="1023.9">&lt;fk1&gt;</text><text x="1042.3" y="1034.2">&lt;fk2&gt;</text>
</g>

<g id="t-address_book">
<rect class="f17 tb" x="295.7" y="846.3" width="163" height="150.4"/><line class="hl" x1="295.7" y1="859" x2="458.7" y2="859"/>
<text class="h" x="377.2" y="855.7">address_book</text>
<text class="u" x="299" y="870">customers_id</text><text class="u" x="299" y="880.25">address_book_id</text>
<text><tspan x="299" y="890.5">entry_gender</tspan><tspan x="299" y="900.75">entry_company</tspan><tspan x="299" y="911">entry_firstname</tspan><tspan x="299" y="921.25">entry_lastname</tspan><tspan x="299" y="931.5">entry_street_address</tspan><tspan x="299" y="941.75">entry_suburb</tspan><tspan x="299" y="952">entry_postcode</tspan><tspan x="299" y="962.25">entry_city</tspan><tspan x="299" y="972.5">entry_state</tspan><tspan x="299" y="982.75">entry_country_id</tspan><tspan x="299" y="993">entry_zone_id</tspan></text>
<text class="u" x="380" y="870">integer(5)</text><text class="u" x="380" y="880.25">integer(5)</text>
<text><tspan x="380" y="890.5">char(1)</tspan><tspan x="380" y="900.75">varchar(32)</tspan><tspan x="380" y="911">varchar(32)</tspan><tspan x="380" y="921.25">varchar(32)</tspan><tspan x="380" y="931.5">varchar(64)</tspan><tspan x="380" y="941.75">varchar(32)</tspan><tspan x="380" y="952">varchar(10)</tspan><tspan x="380" y="962.25">varchar(32)</tspan><tspan x="380" y="972.5">varchar(32)</tspan><tspan x="380" y="982.75">integer(5)</tspan><tspan x="380" y="993">integer(5)</tspan></text>
<text class="u" x="427.7" y="870">&lt;pk,fk3&gt;</text><text class="u" x="427.7" y="880.25">&lt;pk&gt;</text><text x="427.7" y="982.75">&lt;fk2&gt;</text><text x="427.7" y="993">&lt;fk1&gt;</text>
</g>

<g id="t-countries">
<rect class="f18 tb" x="295.7" y="1015.3" width="155.6" height="68.4"/><line class="hl" x1="295.7" y1="1027.3" x2="451.3" y2="1027.3" style="stroke:#8a8aa0;stroke-width:2"/>
<text class="h" x="373.5" y="1024.3">countries</text>
<text class="u" x="299" y="1037.7">countries_id</text>
<text><tspan x="299" y="1047.9">countries_name</tspan><tspan x="299" y="1058.2">countries_iso_code_2</tspan><tspan x="299" y="1068.4">countries_iso_code_3</tspan><tspan x="299" y="1078.7">address_format_id</tspan></text>
<text class="u" x="385.7" y="1037.7">integer(5)</text>
<text><tspan x="385.7" y="1047.9">varchar(64)</tspan><tspan x="385.7" y="1058.2">char(2)</tspan><tspan x="385.7" y="1068.4">char(3)</tspan><tspan x="385.7" y="1078.7">integer(5)</tspan></text>
<text class="u" x="433.3" y="1037.7">&lt;pk&gt;</text>
</g>

<g id="t-zones_to_geo_zones">
<rect class="f19 tb" x="64" y="1014.7" width="133.3" height="78.3"/><line class="hl" x1="64" y1="1026.7" x2="197.3" y2="1026.7"/>
<text class="h" x="130.7" y="1023.7">zones_to_geo_zones</text>
<text class="u" x="67" y="1037.7">association_id</text>
<text><tspan x="67" y="1047.9">zone_country_id</tspan><tspan x="67" y="1058.2">zone_id</tspan><tspan x="67" y="1068.4">geo_zone_id</tspan><tspan x="67" y="1078.7">last_modified</tspan><tspan x="67" y="1088.9">date_added</tspan></text>
<text class="u" x="135" y="1037.7">integer(5)</text>
<text><tspan x="135" y="1047.9">integer(5)</tspan><tspan x="135" y="1058.2">integer(5)</tspan><tspan x="135" y="1068.4">integer(5)</tspan><tspan x="135" y="1078.7">datetime</tspan><tspan x="135" y="1088.9">datetime</tspan></text>
<text class="u" x="177" y="1037.7">&lt;pk&gt;</text><text><tspan x="177" y="1047.9">&lt;fk1&gt;</tspan><tspan x="177" y="1058.2">&lt;fk3&gt;</tspan><tspan x="177" y="1068.4">&lt;fk2&gt;</tspan></text>
</g>

<g id="t-geo_zones">
<rect class="f19 tb" x="62.3" y="1134.7" width="162" height="68"/><line class="hl" x1="62.3" y1="1146.7" x2="224.3" y2="1146.7"/>
<text class="h" x="143.3" y="1143.7">geo_zones</text>
<text class="u" x="65.7" y="1157.7">geo_zone_id</text>
<text><tspan x="65.7" y="1167.9">geo_zone_name</tspan><tspan x="65.7" y="1178.2">geo_zone_description</tspan><tspan x="65.7" y="1188.4">last_modified</tspan><tspan x="65.7" y="1198.7">date_added</tspan></text>
<text class="u" x="153.7" y="1157.7">integer(5)</text>
<text><tspan x="153.7" y="1167.9">varchar(32)</tspan><tspan x="153.7" y="1178.2">varchar(255)</tspan><tspan x="153.7" y="1188.4">datetime</tspan><tspan x="153.7" y="1198.7">datetime</tspan></text>
<text class="u" x="206" y="1157.7">&lt;pk&gt;</text>
</g>

<g id="t-zones">
<rect class="f19 tb" x="252.7" y="1134.7" width="136" height="58"/><line class="hl" x1="252.7" y1="1146.7" x2="388.7" y2="1146.7"/>
<text class="h" x="320.7" y="1143.7">zones</text>
<text class="u" x="255.7" y="1157.7">zone_id</text>
<text><tspan x="255.7" y="1167.9">zone_country_id</tspan><tspan x="255.7" y="1178.2">zone_code</tspan><tspan x="255.7" y="1188.4">zone_name</tspan></text>
<text class="u" x="323.3" y="1157.7">integer(5)</text>
<text><tspan x="323.3" y="1167.9">integer(5)</tspan><tspan x="323.3" y="1178.2">varchar(5)</tspan><tspan x="323.3" y="1188.4">varchar(32)</tspan></text>
<text class="u" x="371" y="1157.7">&lt;pk&gt;</text><text x="371" y="1167.9">&lt;fk&gt;</text>
</g>

<g id="t-address_format">
<rect class="f20 tb" x="429.3" y="1133.7" width="147.7" height="48"/><line class="hl" x1="429.3" y1="1146" x2="577" y2="1146"/>
<text class="h" x="503.1" y="1142.9">address_format</text>
<text class="u" x="432.3" y="1157">address_format_id</text><text x="432.3" y="1167.3">address_format</text><text x="432.3" y="1177.5">address_summary</text>
<text class="u" x="506" y="1157">integer(5)</text><text x="506" y="1167.3">varchar(128)</text><text x="506" y="1177.5">varchar(48)</text>
<text class="u" x="558.7" y="1157">&lt;pk&gt;</text>
</g>

<g id="t-tax_rates">
<rect class="f21 tb" x="116" y="1235.3" width="138.7" height="99.4"/><line class="hl" x1="116" y1="1248" x2="254.7" y2="1248"/>
<text class="h" x="185.3" y="1244.7">tax_rates</text>
<text class="u" x="119" y="1258.3">tax_rates_id</text>
<text><tspan x="119" y="1268.6">tax_zone_id</tspan><tspan x="119" y="1278.8">tax_class_id</tspan><tspan x="119" y="1289.1">tax_priority</tspan><tspan x="119" y="1299.3">tax_rate</tspan><tspan x="119" y="1309.6">tax_description</tspan><tspan x="119" y="1319.8">last_modified</tspan><tspan x="119" y="1330.1">date_added</tspan></text>
<text class="u" x="181.7" y="1258.3">integer(5)</text>
<text><tspan x="181.7" y="1268.6">integer(5)</tspan><tspan x="181.7" y="1278.8">integer(5)</tspan><tspan x="181.7" y="1289.1">integer(5)</tspan><tspan x="181.7" y="1299.3">decimal(9,4)</tspan><tspan x="181.7" y="1309.6">varchar(255)</tspan><tspan x="181.7" y="1319.8">datetime</tspan><tspan x="181.7" y="1330.1">datetime</tspan></text>
<text class="u" x="234.7" y="1258.3">&lt;pk&gt;</text><text x="234.7" y="1268.6">&lt;fk2&gt;</text><text x="234.7" y="1278.8">&lt;fk1&gt;</text>
</g>

<g id="t-tax_class">
<rect class="f21 tb" x="289.3" y="1235.3" width="158" height="68.7"/><line class="hl" x1="289.3" y1="1248" x2="447.3" y2="1248"/>
<text class="h" x="368.3" y="1244.7">tax_class</text>
<text class="u" x="292.7" y="1258">tax_class_id</text>
<text><tspan x="292.7" y="1268.3">tax_class_title</tspan><tspan x="292.7" y="1278.5">tax_class_description</tspan><tspan x="292.7" y="1288.8">last_modified</tspan><tspan x="292.7" y="1299">date_added</tspan></text>
<text class="u" x="377" y="1258">integer(5)</text>
<text><tspan x="377" y="1268.3">varchar(32)</tspan><tspan x="377" y="1278.5">varchar(255)</tspan><tspan x="377" y="1288.8">datetime</tspan><tspan x="377" y="1299">datetime</tspan></text>
<text class="u" x="429.3" y="1258">&lt;pk&gt;</text>
</g>
</svg>
